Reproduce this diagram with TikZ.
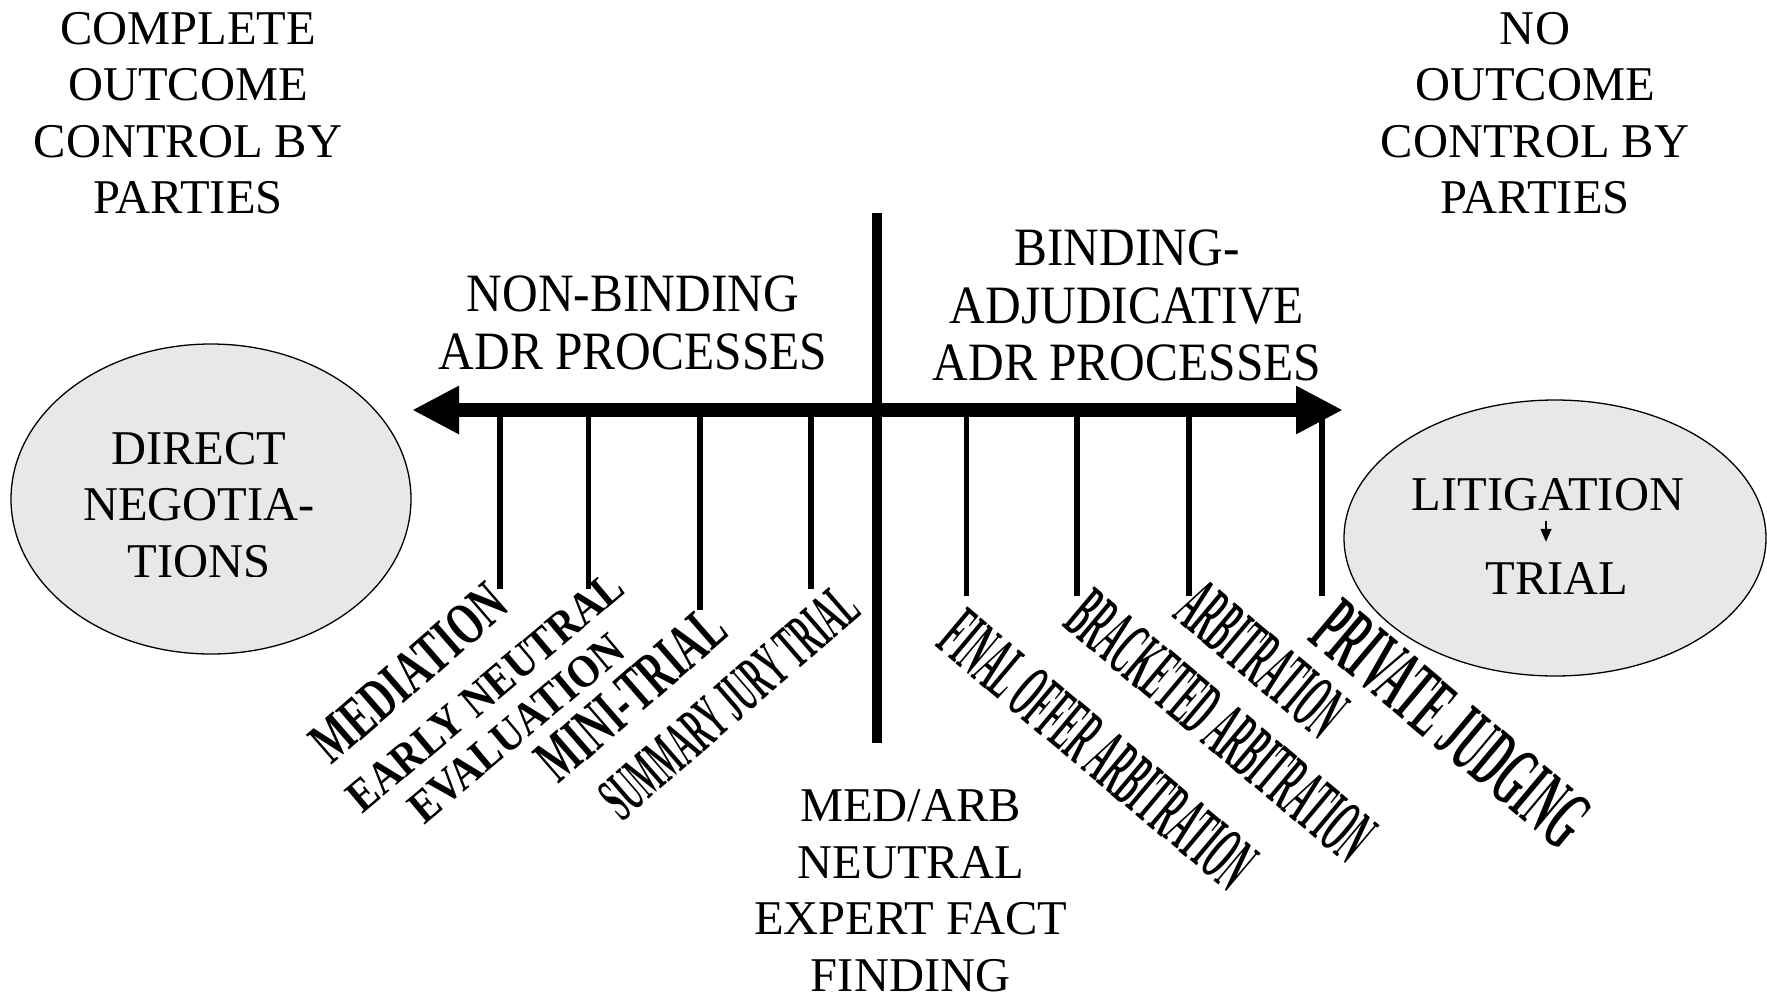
\documentclass[tikz,border=0pt]{standalone}
\usepackage{graphicx}
\usepackage{fontspec}
\setmainfont{Liberation Serif}
\newfontfamily\narrowserif[FakeStretch=0.915]{Liberation Serif}
\usetikzlibrary{arrows.meta,shapes.geometric}
\definecolor{ovalfill}{HTML}{E8E8E8}
\newcommand\procfont[2]{\fontsize{#1}{#2}\selectfont\bfseries}
\begin{document}
\begin{tikzpicture}[x=1pt,y=-1pt,
  plain/.style={inner sep=0pt, align=center, font=\fontsize{48.5}{56.5}\selectfont},
  header/.style={inner sep=0pt, align=center, font=\narrowserif\fontsize{54}{57.5}\selectfont},
  proc/.style={inner sep=0pt, align=center},
  oval/.style={ellipse, draw, line width=1.3pt, fill=ovalfill, inner sep=0pt},
  axisbar/.style={line width=14pt, {Triangle[length=47pt,width=45pt]}-{Triangle[length=47pt,width=45pt]}},
  divider/.style={line width=10pt},
  tickline/.style={line width=5.5pt},
  smallarrow/.style={line width=1.2pt, -{Triangle[length=13pt,width=11pt]}}
]
\useasboundingbox (0,0) rectangle (1767,997);

% corner captions
\node[plain] (complete) at (188,113) {COMPLETE\\OUTCOME\\CONTROL BY\\PARTIES};
\node[plain] (nocontrol) at (1535,113) {NO\\OUTCOME\\CONTROL BY\\PARTIES};

% ellipses
\node[oval, minimum width=400pt, minimum height=310pt] (dirneg) at (211,499) {};
\node[oval, minimum width=422pt, minimum height=276pt] (litoval) at (1555,538) {};

\begin{scope}
  \clip (0,0) rectangle (1767,576.5);
  \node[plain] (dirtext) at (199,505) {DIRECT\\NEGOTIA-\\TIONS};
\end{scope}
\node[plain, anchor=base] (lit) at (1548,510) {LITIGATION};
\node[plain, anchor=base] (trial) at (1557,594) {TRIAL};
\draw[smallarrow, shorten <=10pt, shorten >=20pt] (lit.south -| 1546,0) -- (trial.north -| 1546,0);

% headers
\node[header] (nonbind) at (633,323) {NON-BINDING\\ADR PROCESSES};
\node[header] (bind) at (1127,305.5) {BINDING-\\ADJUDICATIVE\\ADR PROCESSES};
\node[plain] (medarb) at (910.6,890.5) {MED/ARB\\NEUTRAL\\EXPERT FACT\\FINDING};

% ticks
\foreach \x/\b [count=\i] in {500/589, 588.5/589, 700/610, 811/589, 966.5/596, 1077/596, 1189/596, 1322/596} {
  \coordinate (tt\i) at (\x,410);
  \coordinate (tb\i) at (\x,\b);
  \draw[tickline] (tt\i) -- (tb\i);
}

% axis and divider
\coordinate (axL) at (412,410);
\coordinate (axR) at (1343,410);
\coordinate (divT) at (877,213);
\coordinate (divB) at (877,743);
\draw[axisbar] (axL) -- (axR);
\draw[divider] (divT) -- (divB);

% process labels, left
\node[proc, rotate=41] (mediation) at (409,673) {\procfont{60}{60}\scalebox{0.67}[1]{MEDIATION}};
\node[proc, rotate=40, font=\procfont{46}{48}] (ene) at (501,710) {\scalebox{0.88}[1]{EARLY NEUTRAL}\\\scalebox{0.88}[1]{EVALUATION}};
\node[proc, rotate=41] (mini) at (631,694) {\procfont{64}{64}\scalebox{0.6}[1]{MINI-TRIAL}};
\node[proc, rotate=41] (sjt) at (729,702) {\procfont{64}{64}\scalebox{0.43}[1]{SUMMARY JURY TRIAL}};

% process labels, right
\node[proc, rotate=-40] (foa) at (1098,750) {\procfont{78}{78}\scalebox{0.35}[1]{FINAL OFFER ARBITRATION}};
\node[proc, rotate=-40] (brk) at (1221,726) {\procfont{78}{78}\scalebox{0.35}[1]{BRACKETED ARBITRATION}};
\node[proc, rotate=-40] (arb) at (1262,659) {\procfont{78}{78}\scalebox{0.35}[1]{ARBITRATION}};
\node[proc, rotate=-40] (pj) at (1451,724) {\procfont{86}{86}\scalebox{0.42}[1]{PRIVATE JUDGING}};
\end{tikzpicture}
\end{document}
